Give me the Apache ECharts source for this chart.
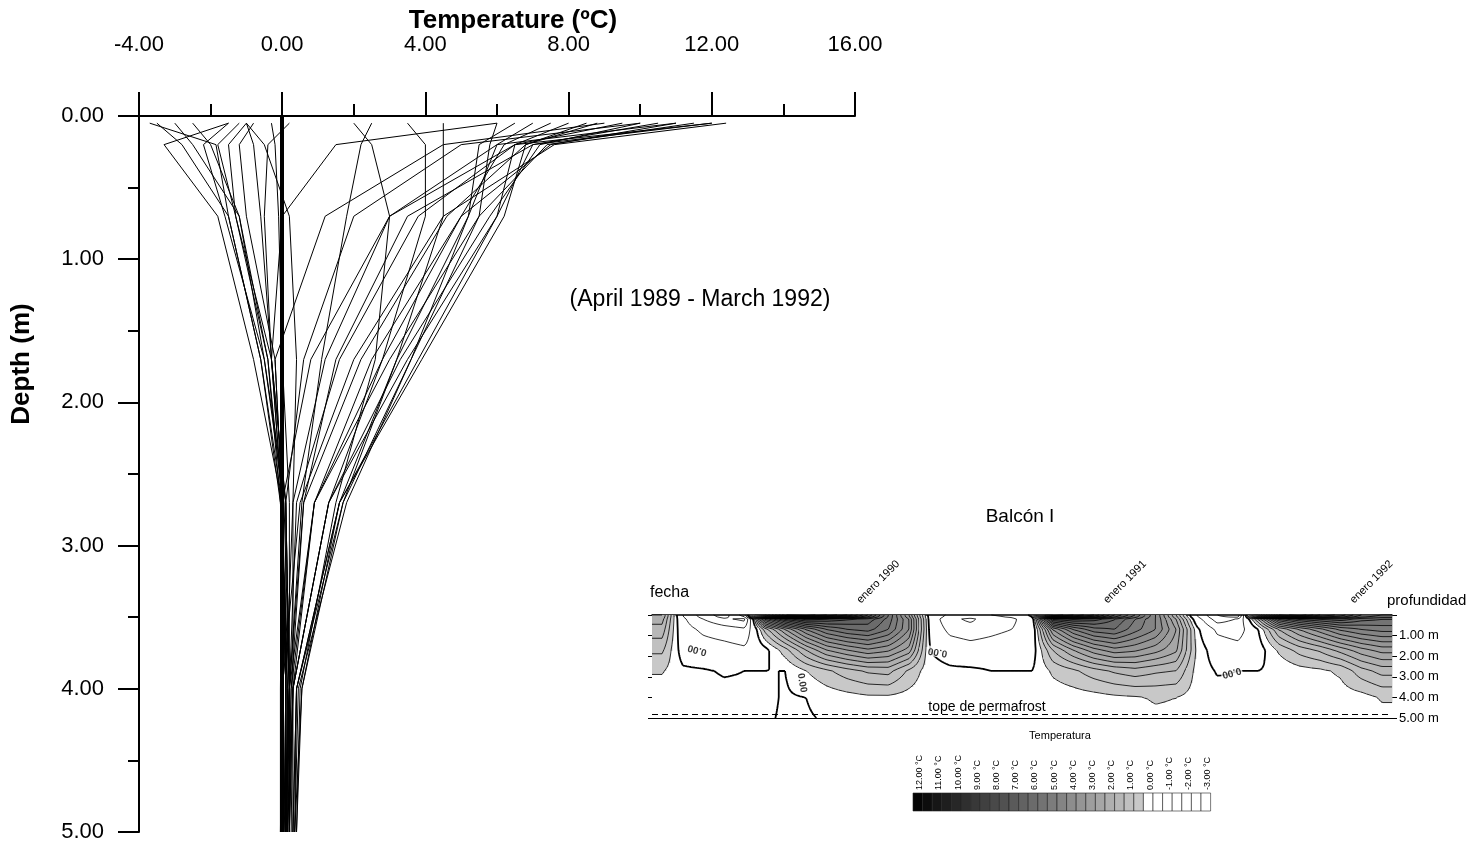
<!DOCTYPE html>
<html><head><meta charset="utf-8">
<script src="https://cdn.jsdelivr.net/npm/echarts@6/dist/echarts.min.js"></script>
<style>html,body{margin:0;padding:0;background:#fff}#c{width:1482px;height:843px}</style>
</head><body><div id="c"></div>
<script>
// ---------------- data ----------------
const depthLevels = [0.05, 0.2, 0.7, 1.7, 2.7, 4.0, 5.0];
const monthNames = ['abr 1989','may 1989','jun 1989','jul 1989','ago 1989','sep 1989','oct 1989','nov 1989','dic 1989',
  'ene 1990','feb 1990','mar 1990','abr 1990','may 1990','jun 1990','jul 1990','ago 1990','sep 1990','oct 1990','nov 1990','dic 1990',
  'ene 1991','feb 1991','mar 1991','abr 1991','may 1991','jun 1991','jul 1991','ago 1991','sep 1991','oct 1991','nov 1991','dic 1991',
  'ene 1992','feb 1992','mar 1992'];
// one row per month, values at depthLevels (ºC)
const profileTemps = [
  [2.5, 2.2, 1.8, 1.1, 0.55, 0.2, 0.1],
  [-1.0, -0.8, -0.6, -0.3, 0.1, 0.2, 0.1],
  [-2.5, -2.0, -1.2, -0.5, 0.05, 0.2, 0.1],
  [-3.5, -2.8, -1.5, -0.6, -0.05, 0.15, 0.1],
  [-1.5, -3.3, -1.8, -0.8, 0.0, 0.1, 0.05],
  [9.0, 4.5, 1.2, -0.2, 0.0, 0.1, 0.05],
  [12.0, 6.5, 3.0, 0.8, 0.0, -0.05, -0.05],
  [12.4, 7.6, 4.5, 2.0, 0.5, 0.0, -0.05],
  [11.5, 7.4, 5.5, 3.0, 0.9, 0.2, 0.05],
  [10.5, 7.0, 6.0, 3.5, 1.3, 0.3, 0.15],
  [8.5, 6.8, 6.2, 3.9, 1.6, 0.4, 0.3],
  [6.0, 5.8, 5.5, 3.6, 1.7, 0.4, 0.35],
  [3.5, 4.0, 4.0, 2.8, 0.9, 0.3, 0.3],
  [-0.3, -0.2, -0.1, 0.0, 0.2, 0.2, 0.2],
  [-1.2, -1.8, -1.3, -0.3, 0.1, 0.2, 0.2],
  [-1.5, -2.2, -1.6, -0.5, 0.1, 0.2, 0.2],
  [-1.0, -1.5, -1.3, -0.4, 0.0, 0.1, 0.1],
  [-0.8, -1.2, -1.0, -0.2, 0.0, 0.1, 0.1],
  [0.2, -0.4, -0.5, -0.3, 0.0, 0.1, 0.1],
  [12.0, 7.0, 3.5, 1.5, 0.6, 0.2, 0.1],
  [11.0, 7.5, 5.0, 2.5, 0.9, 0.25, 0.15],
  [10.0, 7.2, 5.8, 3.3, 1.3, 0.3, 0.2],
  [8.0, 6.5, 6.0, 3.8, 1.6, 0.4, 0.3],
  [6.5, 5.5, 5.2, 3.6, 1.8, 0.45, 0.35],
  [4.5, 4.5, 4.5, 3.2, 1.6, 0.55, 0.4],
  [2.0, 2.5, 3.0, 2.6, 1.5, 0.5, 0.4],
  [-1.0, -0.5, 0.2, 0.4, 0.3, 0.3, 0.2],
  [-3.0, -2.5, -1.2, -0.4, -0.05, 0.2, 0.2],
  [-3.7, -1.85, -1.5, -0.6, 0.0, 0.15, 0.15],
  [6.0, 1.5, 0.0, -0.3, 0.0, 0.1, 0.1],
  [10.0, 5.0, 2.0, 0.6, 0.1, 0.1, 0.1],
  [11.0, 6.0, 3.0, 1.2, 0.3, 0.1, 0.1],
  [9.5, 6.5, 3.8, 1.6, 0.4, 0.2, 0.15],
  [8.8, 6.8, 4.6, 2.2, 0.6, 0.25, 0.2],
  [7.5, 6.2, 5.0, 2.8, 1.3, 0.3, 0.25],
  [7.0, 6.0, 5.2, 3.2, 1.7, 0.55, 0.35]
];
const januaryMonths = [9, 21, 33];
const januaryLabels = ['enero 1990', 'enero 1991', 'enero 1992'];
const insetTickMonths = [1, 3, 6, 8, 11, 13, 16, 18, 21, 23, 26, 28, 31, 33, 36];
const legendTemps = [12, 11, 10, 9, 8, 7, 6, 5, 4, 3, 2, 1, 0, -1, -2, -3];
const permafrostDepth = 4.8;

// ---------------- helpers ----------------
const FONT = 'Liberation Sans, Arial, sans-serif';
function grayFor(t) {
  if (t < 0.5) return null;
  const b = Math.floor(t / 0.5);
  const g = Math.max(0, Math.round(200 - (b - 1) * 8.5));
  return 'rgb(' + g + ',' + g + ',' + g + ')';
}
function tempAt(row, d) {
  if (d <= depthLevels[0]) return row[0];
  for (let k = 0; k < depthLevels.length - 1; k++) {
    if (d <= depthLevels[k + 1]) {
      const t = (d - depthLevels[k]) / (depthLevels[k + 1] - depthLevels[k]);
      return row[k] * (1 - t) + row[k + 1] * t;
    }
  }
  return row[row.length - 1];
}
function field(m, d) {
  const n = profileTemps.length - 1;
  m = Math.max(0, Math.min(n, m));
  const m0 = Math.floor(m), m1 = Math.min(m0 + 1, n), f = m - m0;
  return tempAt(profileTemps[m0], d) * (1 - f) + tempAt(profileTemps[m1], d) * f;
}
const contourLevels = [-3, -2, -1, 0];
for (let v = 0.5; v <= 12.5; v += 0.5) contourLevels.push(v);

function renderInset(params, api) {
  const i = api.value(0);
  const n = profileTemps.length;
  const p00 = api.coord([-0.5, 0]), p11 = api.coord([n - 0.5, 5]);
  const toMonth = px => (px - p00[0]) / (p11[0] - p00[0]) * n - 0.5;
  const toDepth = py => (py - p00[1]) / (p11[1] - p00[1]) * 5;
  const xa = Math.round(api.coord([i - 0.5, 0])[0]), xb = Math.round(api.coord([i + 0.5, 0])[0]);
  const ya = Math.round(p00[1]), yb = Math.round(p11[1]);
  const S = 2;
  const xs = []; for (let x = xa; x < xb; x += S) xs.push(x); xs.push(xb);
  const ys = []; for (let y = ya; y < yb; y += S) ys.push(y); ys.push(yb);
  const V = xs.map(x => ys.map(y => field(toMonth(x), toDepth(y))));
  const children = [];
  for (let a = 0; a < xs.length - 1; a++) {
    let runStart = 0, runG = undefined;
    for (let b = 0; b < ys.length - 1; b++) {
      const t = (V[a][b] + V[a + 1][b] + V[a][b + 1] + V[a + 1][b + 1]) / 4;
      const g = grayFor(t);
      if (g !== runG) {
        if (runG) children.push({type: 'rect', shape: {x: xs[a], y: ys[runStart], width: xs[a + 1] - xs[a] + 0.4, height: ys[b] - ys[runStart]}, style: {fill: runG}});
        runG = g; runStart = b;
      }
    }
    if (runG) children.push({type: 'rect', shape: {x: xs[a], y: ys[runStart], width: xs[a + 1] - xs[a] + 0.4, height: ys[ys.length - 1] - ys[runStart]}, style: {fill: runG}});
  }
  let path = '', zpath = '';
  for (let a = 0; a < xs.length - 1; a++) {
    for (let b = 0; b < ys.length - 1; b++) {
      const c = [[xs[a], ys[b], V[a][b]], [xs[a + 1], ys[b], V[a + 1][b]], [xs[a + 1], ys[b + 1], V[a + 1][b + 1]], [xs[a], ys[b + 1], V[a][b + 1]]];
      const lo = Math.min(c[0][2], c[1][2], c[2][2], c[3][2]);
      const hi = Math.max(c[0][2], c[1][2], c[2][2], c[3][2]);
      for (const L of contourLevels) {
        if (L <= lo || L > hi) continue;
        const pts = [];
        for (let e = 0; e < 4; e++) {
          const p = c[e], q = c[(e + 1) % 4];
          if ((p[2] < L) !== (q[2] < L)) {
            const t = (L - p[2]) / (q[2] - p[2]);
            pts.push([p[0] + (q[0] - p[0]) * t, p[1] + (q[1] - p[1]) * t]);
          }
        }
        let s = '';
        for (let k = 0; k + 1 < pts.length; k += 2) {
          s += 'M' + pts[k][0].toFixed(2) + ' ' + pts[k][1].toFixed(2) + 'L' + pts[k + 1][0].toFixed(2) + ' ' + pts[k + 1][1].toFixed(2);
        }
        if (L === 0) zpath += s; else path += s;
      }
    }
  }
  if (path) children.push({type: 'path', shape: {pathData: path}, style: {stroke: '#000', fill: null, lineWidth: 0.8}});
  if (zpath) children.push({type: 'path', shape: {pathData: zpath}, style: {stroke: '#000', fill: null, lineWidth: 1.8}});
  return {type: 'group', children: children};
}

// ---------------- legend strip (graphic) ----------------
const legendGraphic = [];
(function () {
  const x0 = 913, y0 = 793, bw = 9.6, bh = 18;
  const nBoxes = (legendTemps.length - 1) * 2 + 1;
  for (let k = 0; k < nBoxes; k++) {
    const v = legendTemps[0] - 0.5 * k;
    legendGraphic.push({type: 'rect', shape: {x: x0 + k * bw, y: y0, width: bw, height: bh},
      style: {fill: grayFor(v) || '#fff', stroke: '#222', lineWidth: 0.6}, silent: true});
  }
  legendTemps.forEach((v, j) => {
    legendGraphic.push({type: 'text', x: x0 + (2 * j) * bw + bw / 2 + 2, y: y0 - 3, rotation: Math.PI / 2,
      style: {text: v.toFixed(2) + ' °C', font: '9px ' + FONT, fill: '#000', align: 'left', verticalAlign: 'middle'}, silent: true});
  });
})();

// ---------------- series ----------------
const profileSeries = profileTemps.map((row, i) => ({
  type: 'line', name: monthNames[i], xAxisIndex: 0, yAxisIndex: 0,
  data: row.map((t, k) => [t, depthLevels[k]]),
  showSymbol: false, symbol: 'none', silent: true, z: 3,
  lineStyle: {color: '#000', width: 1}
}));
profileSeries[0].markLine = {
  symbol: 'none', silent: true, label: {show: false}, animation: false,
  lineStyle: {color: '#000', width: 4, type: 'solid'}, data: [{xAxis: 0}]
};

const chart = echarts.init(document.getElementById('c'), null, {renderer: 'canvas'});
chart.setOption({
  animation: false,
  backgroundColor: '#fff',
  textStyle: {fontFamily: FONT, color: '#000'},
  grid: [
    {left: 139, top: 116, width: 716, height: 716},
    {left: 652, top: 615, width: 740, height: 103}
  ],
  xAxis: [
    {gridIndex: 0, type: 'value', position: 'top', min: -4, max: 16, interval: 4,
      axisLine: {onZero: false, lineStyle: {color: '#000', width: 2}},
      axisTick: {length: 24, lineStyle: {color: '#000', width: 2}},
      minorTick: {show: true, splitNumber: 2, length: 12, lineStyle: {color: '#000', width: 2}},
      splitLine: {show: false}, minorSplitLine: {show: false},
      axisLabel: {margin: 60, fontSize: 22, color: '#000', fontFamily: FONT, formatter: v => v.toFixed(2)}},
    {gridIndex: 1, type: 'category', position: 'top', data: monthNames, boundaryGap: true,
      axisLine: {onZero: false, lineStyle: {color: '#000', width: 1.5}},
      axisTick: {length: 5, interval: (idx) => insetTickMonths.indexOf(idx) >= 0, lineStyle: {color: '#000', width: 1}},
      splitLine: {show: false},
      axisLabel: {interval: 0, rotate: -45, fontSize: 11, margin: 2, padding: [0, 0, 0, 16], color: '#000', fontFamily: FONT,
        formatter: (v, idx) => { const k = januaryMonths.indexOf(idx); return k >= 0 ? januaryLabels[k] : ''; }}},
    {gridIndex: 1, type: 'category', position: 'bottom', data: monthNames, boundaryGap: true,
      axisLine: {onZero: false, lineStyle: {color: '#000', width: 1}},
      axisTick: {length: 5, interval: (idx) => insetTickMonths.indexOf(idx) >= 0, lineStyle: {color: '#000', width: 1}},
      splitLine: {show: false}, axisLabel: {show: false}},
    {gridIndex: 1, type: 'value', show: false, min: -0.5, max: profileTemps.length - 0.5,
      splitLine: {show: false}}
  ],
  yAxis: [
    {gridIndex: 0, type: 'value', inverse: true, min: 0, max: 5, interval: 1,
      axisLine: {onZero: false, lineStyle: {color: '#000', width: 2}},
      axisTick: {length: 21, lineStyle: {color: '#000', width: 2}},
      minorTick: {show: true, splitNumber: 2, length: 11, lineStyle: {color: '#000', width: 2}},
      splitLine: {show: false}, minorSplitLine: {show: false},
      axisLabel: {margin: 35, fontSize: 22, color: '#000', fontFamily: FONT, formatter: v => v.toFixed(2)}},
    {gridIndex: 1, type: 'value', position: 'right', inverse: true, min: 0, max: 5, interval: 1,
      axisLine: {show: false, onZero: false},
      axisTick: {show: true, length: 5, lineStyle: {color: '#000', width: 1}},
      splitLine: {show: false},
      axisLabel: {fontSize: 13, margin: 7, color: '#000', fontFamily: FONT,
        formatter: v => v === 0 ? '' : v.toFixed(2) + ' m'}},
    {gridIndex: 1, type: 'value', position: 'left', inverse: true, min: 0, max: 5, interval: 1,
      axisLine: {show: false, onZero: false},
      axisTick: {show: true, length: 4, lineStyle: {color: '#000', width: 1}},
      splitLine: {show: false}, axisLabel: {show: false}}
  ],
  series: profileSeries.concat([
    {type: 'custom', name: 'Balcón I', xAxisIndex: 3, yAxisIndex: 1, silent: true, z: 2,
      data: profileTemps.map((r, i) => [i, 0]),
      renderItem: renderInset},
    {type: 'scatter', xAxisIndex: 3, yAxisIndex: 1, symbolSize: 0, silent: true, z: 4,
      label: {show: true, formatter: '0.00', fontSize: 10, fontWeight: 'bold', color: '#000', fontFamily: FONT,
        position: 'inside', backgroundColor: '#fff', padding: [0, 1]},
      data: [
        {value: [1.7, 1.7], label: {rotate: 165}},
        {value: [13.4, 1.8], label: {rotate: 170}},
        {value: [6.8, 3.3], label: {rotate: -80}},
        {value: [27.7, 2.8], label: {rotate: 195}}
      ],
      markLine: {symbol: 'none', silent: true, animation: false, label: {show: false},
        lineStyle: {color: '#000', width: 1, type: [6, 4]}, data: [{yAxis: permafrostDepth}]}}
  ]),
  graphic: [
    {type: 'text', x: 513, y: 21, style: {text: 'Temperature (ºC)', font: 'bold 26px ' + FONT, fill: '#000', align: 'center', verticalAlign: 'middle'}},
    {type: 'text', x: 22, y: 364, rotation: Math.PI / 2, style: {text: 'Depth (m)', font: 'bold 26px ' + FONT, fill: '#000', align: 'center', verticalAlign: 'middle'}},
    {type: 'text', x: 700, y: 300, style: {text: '(April 1989 - March 1992)', font: '23px ' + FONT, fill: '#000', align: 'center', verticalAlign: 'middle'}},
    {type: 'text', x: 1020, y: 517, style: {text: 'Balcón I', font: '19px ' + FONT, fill: '#000', align: 'center', verticalAlign: 'middle'}},
    {type: 'text', x: 650, y: 593, style: {text: 'fecha', font: '16px ' + FONT, fill: '#000', align: 'left', verticalAlign: 'middle'}},
    {type: 'text', x: 1387, y: 601, style: {text: 'profundidad', font: '15px ' + FONT, fill: '#000', align: 'left', verticalAlign: 'middle'}},
    {type: 'text', x: 1060, y: 736, style: {text: 'Temperatura', font: '11px ' + FONT, fill: '#000', align: 'center', verticalAlign: 'middle'}},
    {type: 'text', x: 987, y: 707, z: 10, style: {text: 'tope de permafrost', font: '14px ' + FONT, fill: '#000', align: 'center', verticalAlign: 'middle'}}
  ].concat(legendGraphic)
});
</script>
</body></html>
